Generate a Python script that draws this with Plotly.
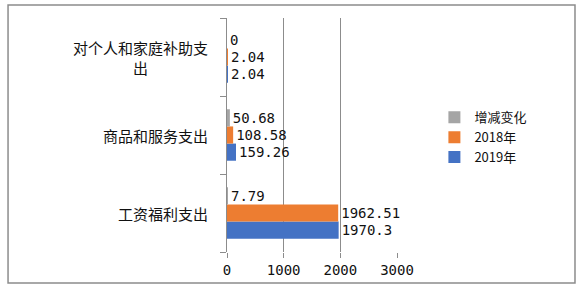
import plotly.graph_objects as go

categories = ["工资福利支出", "商品和服务支出", "对个人和家庭补助支出"]
values_2019 = [1970.3, 159.26, 2.04]
values_2018 = [1962.51, 108.58, 2.04]
values_change = [7.79, 50.68, 0]
series_names = ["2019年", "2018年", "增减变化"]
colors = ["#4472C4", "#ED7D31", "#A5A5A5"]

num_font = dict(family="DejaVu Sans Mono", size=14, color="#111")
cjk_font = dict(family="Noto Sans CJK SC", size=15, color="#111")

fig = go.Figure()
for name, vals, col in zip(series_names, [values_2019, values_2018, values_change], colors):
    fig.add_trace(go.Bar(
        y=categories, x=vals, name=name, orientation="h",
        marker=dict(color=col, line=dict(width=0)),
        text=[f"{v:g}" for v in vals], textposition="outside",
        textfont=num_font, cliponaxis=False,
    ))

def wrap(s, n=9):
    return "<br>".join(s[i:i + n] for i in range(0, len(s), n))

for c in categories:
    fig.add_annotation(
        x=0, xref="paper", y=c, yref="y", text=wrap(c), showarrow=False,
        xanchor="right", yanchor="middle", align="center", xshift=-17,
        font=cjk_font,
    )

fig.add_shape(type="rect", xref="paper", yref="paper",
              x0=-1.288, x1=2.047, y0=-0.1325, y1=1.0556,
              line=dict(color="#8c8c8c", width=1.5), fillcolor="rgba(0,0,0,0)", layer="below")

fig.update_layout(
    width=586, height=289,
    margin=dict(l=227, r=189, t=18, b=37),
    paper_bgcolor="white", plot_bgcolor="white",
    barmode="group", bargap=0.34, bargroupgap=0,
    showlegend=True,
    legend=dict(x=1.22, y=0.49, xanchor="left", yanchor="middle",
                traceorder="reversed", font=dict(family="Noto Sans CJK SC", size=13, color="#111"),
                itemwidth=30, tracegroupgap=0),
    xaxis=dict(range=[0, 3000], dtick=1000, showgrid=True, gridcolor="#8c8c8c", gridwidth=1,
               zeroline=False, showline=False, ticks="outside", ticklen=5, tickcolor="#8c8c8c",
               tickfont=num_font),
    yaxis=dict(showticklabels=False, showline=True, linecolor="#8c8c8c", linewidth=1,
               ticks="outside", ticklen=6, tickcolor="#8c8c8c", tickson="boundaries",
               showgrid=False, zeroline=False),
)

fig.write_html("out.html")
